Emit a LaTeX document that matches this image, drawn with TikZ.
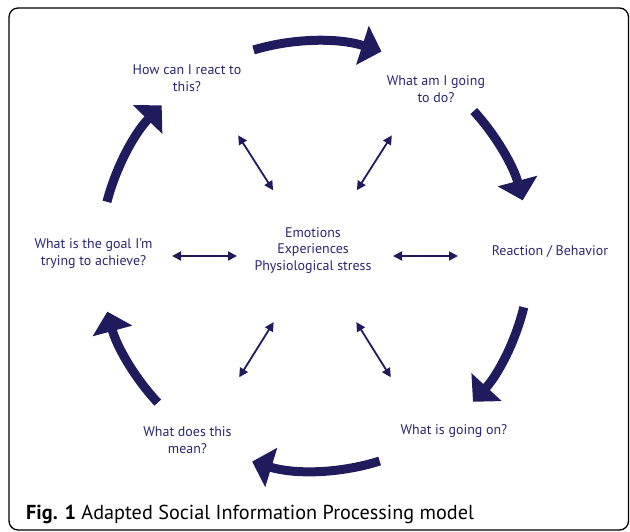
\documentclass[tikz,border=0pt]{standalone}
\usepackage{fontspec}
\setmainfont{PT Sans}
\usepackage{tikz}
\usetikzlibrary{arrows.meta,calc}
\definecolor{sipnavy}{RGB}{31,27,92}
\definecolor{siptext}{RGB}{42,38,110}

\begin{document}
\begin{tikzpicture}[x=1bp,y=1bp,
    phase/.style={font=\fontsize{14}{17}\selectfont,text=siptext,align=center,inner sep=0pt},
    cyclearrow/.style={draw=sipnavy,line width=9bp,-{Triangle[length=20bp,width=40bp]}},
    link/.style={draw=sipnavy,line width=1.8bp,{Triangle[length=9bp,width=9bp]}-{Triangle[length=9bp,width=9bp]}}]
    \useasboundingbox (0,0) rectangle (630,532);
    \draw[line width=1.3bp,rounded corners=9bp] (9,2) rectangle (628.5,524);
    \coordinate (hub) at (315,276);
    % the steps round the centre
    \node[phase] (emo) at (313,281.5) {Emotions\\Experiences\\Physiological stress};
    \node[phase] (how) at (187,453.5) {How can I react to\\this?};
    \node[phase] (plan) at (436,442.5) {What am I going\\to do?};
    \node[phase] (react) at (550,280) {Reaction / Behavior};
    \node[phase] (going) at (454,101) {What is going on?};
    \node[phase] (mean) at (187.5,92) {What does this\\mean?};
    \node[phase] (goal) at (93.5,278) {What is the goal I'm\\trying to achieve?};
    % big cycle
    \foreach \s/\e in {106.6/72,42.4/15,-13.8/-42.7,-72.5/-107,-137/-165,165.4/135.5}
        \draw[cyclearrow] ($(hub)+(\s:215)$) arc[start angle=\s,end angle=\e,radius=215];
    % links to the centre
    \foreach \a [count=\i] in {0,57.5,122.5,180,-122,-58} {
        \coordinate (li\i) at ($(hub)+(\a:78)$);
        \coordinate (lo\i) at ($(hub)+(\a:143)$);
        \draw[link] (li\i) -- (lo\i);
    }
    \node[anchor=west,font=\fontsize{20.3}{24}\selectfont,inner sep=0pt] (cap) at (26,18)
        {\textbf{Fig. 1} Adapted Social Information Processing model};
\end{tikzpicture}
\end{document}
